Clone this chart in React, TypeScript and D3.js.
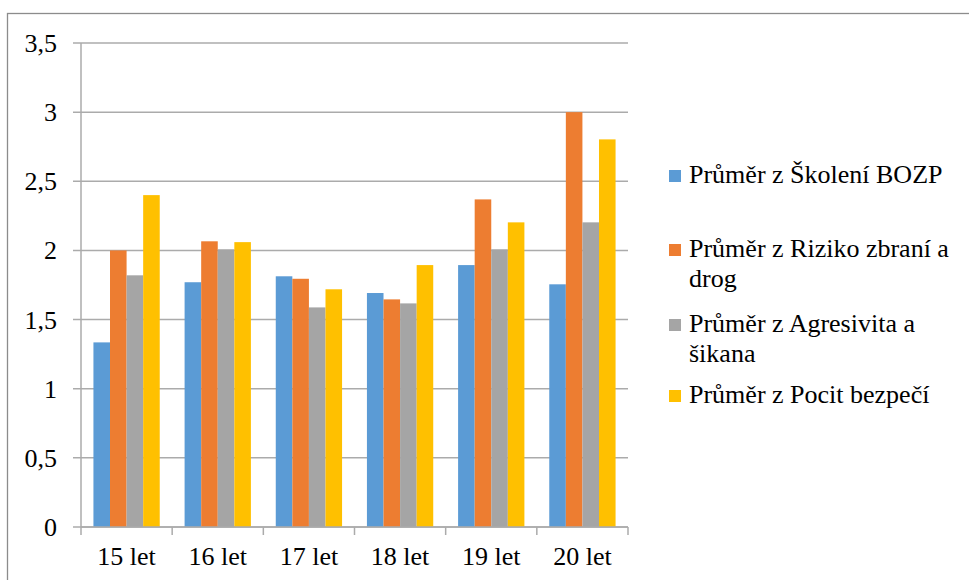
import React from "react";
import * as d3 from "d3";

const categories = ["15 let", "16 let", "17 let", "18 let", "19 let", "20 let"];
const seriesNames = [
  "Průměr z Školení BOZP",
  "Průměr z Riziko zbraní a drog",
  "Průměr z Agresivita a šikana",
  "Průměr z Pocit bezpečí",
];
const legendLines = [
  ["Průměr z Školení BOZP"],
  ["Průměr z Riziko zbraní a", "drog"],
  ["Průměr z Agresivita a", "šikana"],
  ["Průměr z Pocit bezpečí"],
];
const skoleni = [1.335, 1.77, 1.813, 1.692, 1.894, 1.755];
const riziko = [2.0, 2.066, 1.795, 1.646, 2.369, 3.0];
const agresivita = [1.82, 2.008, 1.588, 1.617, 2.008, 2.203];
const pocit = [2.4, 2.06, 1.719, 1.894, 2.203, 2.803];
const seriesValues = [skoleni, riziko, agresivita, pocit];
const colors = ["#5B9BD5", "#ED7D31", "#A5A5A5", "#FFC000"];
const yTicks = [0, 0.5, 1, 1.5, 2, 2.5, 3, 3.5];

const FONT = "Liberation Serif, Times New Roman, serif";

export default function App() {
  const W = 969;
  const H = 580;
  const left = 81;
  const right = 628;
  const top = 43;
  const bottom = 527;

  const x = d3.scaleBand<string>().domain(categories).range([left, right]).paddingInner(0).paddingOuter(0);
  const bw = x.bandwidth();
  const gap = (bw * 1.5) / 5.5;
  const xs = d3
    .scaleBand<number>()
    .domain(seriesNames.map((_, i) => i))
    .range([gap / 2, bw - gap / 2])
    .padding(0);
  const y = d3.scaleLinear().domain([0, 3.5]).range([bottom, top]);
  const fmt = (v: number) => String(v).replace(".", ",");
  const gridColor = "#ABABAB";

  const legendY = [183, 257, 332, 403];
  const textStyle = { fontFamily: FONT, fontSize: 26, fill: "#000" } as React.CSSProperties;

  return (
    <svg
      width={W}
      height={H}
      style={{ position: "absolute", left: 0, top: 0, background: "#fff" }}
    >
      <rect x={7.5} y={13.5} width={1000} height={700} fill="#fff" stroke="#8C8C8C" strokeWidth={1.3} />
      {yTicks.map((t) => (
        <g key={t}>
          <line x1={left - 8} x2={right} y1={y(t)} y2={y(t)} stroke={gridColor} strokeWidth={1.5} />
          <text x={57} y={y(t) + 9} textAnchor="end" style={textStyle}>
            {fmt(t)}
          </text>
        </g>
      ))}
      {seriesValues.map((vals, si) =>
        vals.map((v, ci) => (
          <rect
            key={`${si}-${ci}`}
            x={(x(categories[ci]) as number) + (xs(si) as number)}
            y={y(v)}
            width={xs.bandwidth()}
            height={y(0) - y(v)}
            fill={colors[si]}
          />
        ))
      )}
      <line x1={left} x2={left} y1={top} y2={bottom} stroke={gridColor} strokeWidth={1.5} />
      <line x1={left} x2={right} y1={bottom} y2={bottom} stroke={gridColor} strokeWidth={1.5} />
      {[...categories.map((c) => x(c) as number), right].map((px, i) => (
        <line key={i} x1={px} x2={px} y1={bottom} y2={bottom + 8} stroke={gridColor} strokeWidth={1.5} />
      ))}
      {categories.map((c) => (
        <text key={c} x={(x(c) as number) + bw / 2} y={565} textAnchor="middle" style={textStyle}>
          {c}
        </text>
      ))}
      {legendLines.map((lines, i) => (
        <g key={i}>
          <rect x={669} y={legendY[i] - 13} width={12} height={12} fill={colors[i]} />
          <text x={689} y={legendY[i]} style={textStyle}>
            {lines.map((l, j) => (
              <tspan key={j} x={689} dy={j === 0 ? 0 : 29.5}>
                {l}
              </tspan>
            ))}
          </text>
        </g>
      ))}
    </svg>
  );
}
